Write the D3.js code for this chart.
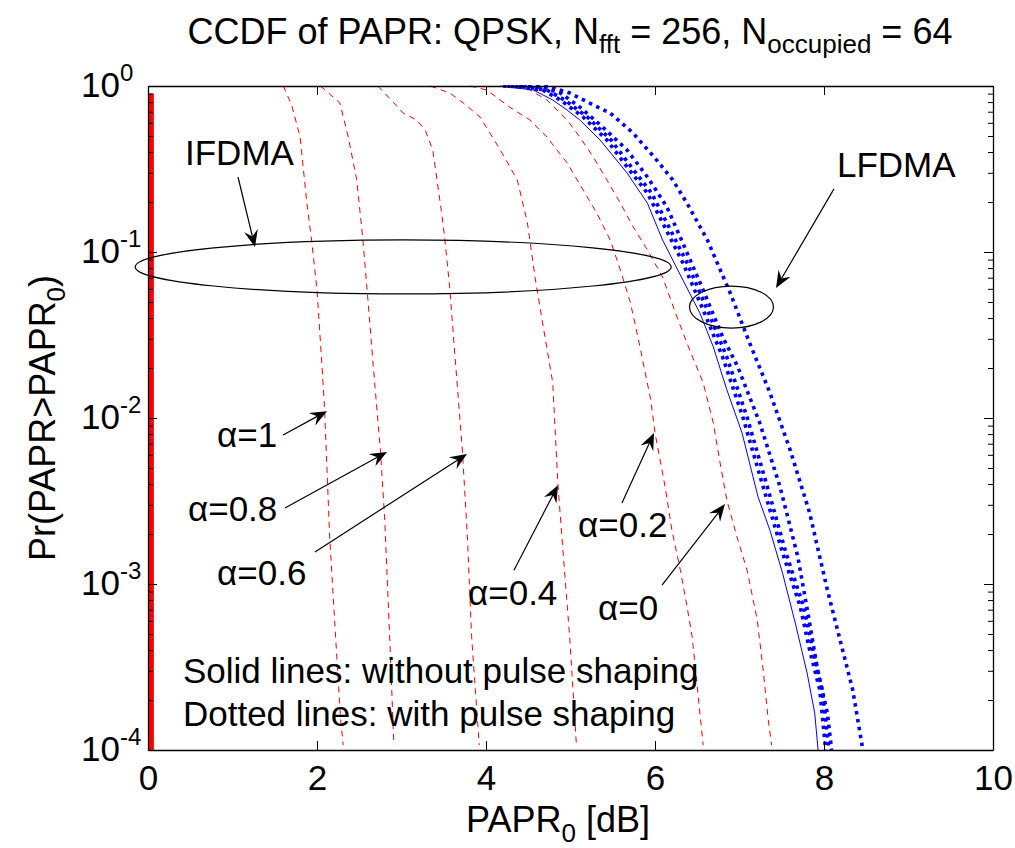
<!DOCTYPE html>
<html>
<head>
<meta charset="utf-8">
<script src="https://cdn.jsdelivr.net/npm/d3@7"></script>
<style>
  html, body { margin: 0; padding: 0; background: #fff; }
  svg text { font-family: "Liberation Sans", Arial, Helvetica, sans-serif; fill: #000; }
</style>
</head>
<body>
<svg id="chart" width="1015" height="848"></svg>
<script>
// ---- data: PAPR0 [dB] and Pr(PAPR > PAPR0) ----
const xTicks = [0, 2, 4, 6, 8, 10];
const yTicks = [1e-4, 1e-3, 1e-2, 1e-1, 1];
const yTickExponents = ["-4", "-3", "-2", "-1", "0"];

// IFDMA without pulse shaping: constant envelope, PAPR = 0 dB
const ifdmaNoShaping = [[0.04, 0.9], [0.04, 1e-4]];

// IFDMA with raised-cosine pulse shaping (dashed), one curve per roll-off
const alphaLabels = ["α=1", "α=0.8", "α=0.6", "α=0.4", "α=0.2", "α=0"];
const ifdmaAlpha1 = [[1.60,1],[1.70,0.769],[1.80,0.493],[1.88,0.197],[1.94,0.113],[2.00,0.0590],[2.06,0.0203],[2.09,0.0112],[2.15,0.00192],[2.22,4.80e-4],[2.28,1.52e-4],[2.31,1.07e-4]];
const ifdmaAlpha08 = [[2.04,1],[2.27,0.791],[2.37,0.493],[2.47,0.272],[2.54,0.123],[2.60,0.0536],[2.66,0.0223],[2.75,0.00641],[2.80,0.00254],[2.86,4.80e-4],[2.91,1.07e-4]];
const ifdmaAlpha06 = [[2.72,1],[2.91,0.791],[3.02,0.687],[3.18,0.624],[3.28,0.543],[3.37,0.411],[3.42,0.272],[3.47,0.179],[3.51,0.123],[3.57,0.0615],[3.63,0.0247],[3.72,0.00641],[3.78,0.00192],[3.83,4.80e-4],[3.92,1.07e-4]];
const ifdmaAlpha04 = [[3.34,1],[3.57,0.908],[3.73,0.791],[3.93,0.650],[4.17,0.411],[4.37,0.272],[4.49,0.150],[4.58,0.0706],[4.67,0.0373],[4.73,0.0247],[4.79,0.0163],[4.85,0.00406],[4.91,0.00160],[4.99,4.80e-4],[5.07,1.07e-4]];
const ifdmaAlpha02 = [[3.81,1],[4.01,0.946],[4.28,0.746],[4.52,0.624],[4.72,0.493],[4.96,0.344],[5.15,0.236],[5.31,0.172],[5.47,0.118],[5.59,0.0780],[5.71,0.0493],[5.83,0.0257],[5.95,0.0128],[6.00,0.00813],[6.12,0.00384],[6.20,0.00211],[6.30,0.00121],[6.38,7.26e-4],[6.44,4.80e-4],[6.57,1.07e-4]];
const ifdmaAlpha0 = [[4.22,1],[4.52,0.946],[4.72,0.824],[4.96,0.624],[5.11,0.493],[5.27,0.373],[5.43,0.272],[5.59,0.197],[5.74,0.142],[5.91,0.103],[6.09,0.0706],[6.26,0.0406],[6.41,0.0257],[6.57,0.0163],[6.69,0.00933],[6.77,0.00536],[6.85,0.00321],[6.97,0.00192],[7.09,0.00121],[7.21,6.07e-4],[7.28,3.03e-4],[7.34,1.52e-4],[7.38,1.07e-4]];

// LFDMA without pulse shaping (solid)
const lfdmaNoShaping = [[4.17,1],[4.56,0.946],[4.79,0.824],[4.96,0.716],[5.11,0.624],[5.35,0.473],[5.67,0.299],[5.91,0.197],[6.09,0.118],[6.33,0.0678],[6.53,0.0430],[6.69,0.0268],[6.85,0.0148],[7.03,0.00813],[7.22,0.00334],[7.36,0.00211],[7.51,0.00116],[7.66,5.82e-4],[7.80,2.91e-4],[7.89,1.67e-4],[7.93,1e-4]];

// LFDMA with pulse shaping (dotted)
const lfdmaShapingA = [[4.20,1],[4.40,0.99],[4.67,0.946],[4.88,0.824],[5.15,0.650],[5.43,0.473],[5.67,0.325],[5.91,0.226],[6.09,0.150],[6.33,0.0859],[6.57,0.0448],[6.80,0.0233],[7.04,0.0101],[7.28,0.00384],[7.51,0.00154],[7.72,7.26e-4],[7.83,4.00e-4],[7.95,2.30e-4],[8.02,1e-4]];
const lfdmaShapingB = [[4.25,1],[4.45,0.99],[4.72,0.946],[4.93,0.824],[5.20,0.650],[5.48,0.473],[5.72,0.325],[5.96,0.226],[6.14,0.150],[6.38,0.0859],[6.62,0.0448],[6.85,0.0233],[7.09,0.0101],[7.33,0.00384],[7.55,0.00154],[7.76,7.26e-4],[7.87,4.00e-4],[7.98,2.30e-4],[8.06,1e-4]];
const lfdmaShapingC = [[4.40,1],[4.64,0.986],[4.88,0.908],[5.11,0.746],[5.38,0.566],[5.67,0.411],[5.91,0.283],[6.14,0.187],[6.33,0.113],[6.57,0.0590],[6.80,0.0308],[6.98,0.0203],[7.24,0.00933],[7.48,0.00384],[7.69,0.00146],[7.83,5.82e-4],[7.93,2.91e-4],[8.04,1.67e-4],[8.09,1e-4]];
const lfdmaShapingD = [[4.50,1],[4.76,0.986],[4.99,0.908],[5.27,0.769],[5.47,0.687],[5.74,0.521],[6.02,0.358],[6.21,0.272],[6.39,0.192],[6.62,0.118],[6.89,0.0566],[7.12,0.0283],[7.36,0.0142],[7.60,0.00641],[7.83,0.00268],[8.04,9.20e-4],[8.19,4.60e-4],[8.34,2.30e-4],[8.46,1e-4]];

// ---- annotations, placed in data coordinates ----
const textNotes = [
  { text: "IFDMA", at: [0.438, 0.334] },
  { text: "LFDMA", at: [8.154, 0.283] },
  { text: alphaLabels[0], at: [0.817, 0.00668] },
  { text: alphaLabels[1], at: [0.473, 0.00240] },
  { text: alphaLabels[2], at: [0.817, 0.000986] },
  { text: alphaLabels[3], at: [3.787, 0.000747] },
  { text: alphaLabels[4], at: [5.089, 0.00192] },
  { text: alphaLabels[5], at: [5.325, 0.000607] },
  { text: "Solid lines: without pulse shaping", at: [0.414, 2.53e-4] },
  { text: "Dotted lines: with pulse shaping", at: [0.414, 1.40e-4] }
];
const arrowNotes = [
  { from: [1.065, 0.283], to: [1.266, 0.107] },
  { from: [8.118, 0.240], to: [7.432, 0.0607] },
  { from: [1.598, 0.00791], to: [2.118, 0.0110] },
  { from: [1.621, 0.00287], to: [2.828, 0.00624] },
  { from: [1.976, 0.00156], to: [3.775, 0.00607] },
  { from: [4.331, 0.00121], to: [4.852, 0.00394] },
  { from: [5.609, 0.00308], to: [5.988, 0.00813] },
  { from: [6.083, 0.000986], to: [6.828, 0.00303] }
];
const ellipseNotes = [
  { center: [3.02, 0.0813], rx: 268, ry: 27 },
  { center: [6.905, 0.0466], rx: 42, ry: 21 }
];

// ---- layout ----
const svg = d3.select("#chart");
const plot = { left: 148, right: 993, top: 86, bottom: 750 };
const x = d3.scaleLinear().domain([0, 10]).range([plot.left, plot.right]);
const y = d3.scaleLog().domain([1e-4, 1]).range([plot.bottom, plot.top]);

const fontTick = 35;
const fontNote = 35;

// clip for curves
svg.append("defs").append("clipPath").attr("id", "plotClip")
  .append("rect").attr("x", plot.left).attr("y", plot.top - 1)
  .attr("width", plot.right - plot.left).attr("height", plot.bottom - plot.top + 2);

const line = d3.line().x(d => x(d[0])).y(d => y(d[1]));
const curves = svg.append("g").attr("clip-path", "url(#plotClip)");

// IFDMA dashed curves
[ifdmaAlpha1, ifdmaAlpha08, ifdmaAlpha06, ifdmaAlpha04, ifdmaAlpha02, ifdmaAlpha0].forEach(s => {
  curves.append("path").datum(s).attr("d", line)
    .attr("fill", "none").attr("stroke", "#ff0000").attr("stroke-width", 1)
    .attr("stroke-dasharray", "6,5");
});

// LFDMA solid
curves.append("path").datum(lfdmaNoShaping).attr("d", line)
  .attr("fill", "none").attr("stroke", "#0000ff").attr("stroke-width", 1);

// LFDMA dotted
[lfdmaShapingA, lfdmaShapingB, lfdmaShapingC, lfdmaShapingD].forEach(s => {
  curves.append("path").datum(s).attr("d", line)
    .attr("fill", "none").attr("stroke", "#0000ff").attr("stroke-width", 3.6)
    .attr("stroke-dasharray", "3.5,4.5");
});

// IFDMA without shaping
curves.append("path").datum(ifdmaNoShaping).attr("d", line)
  .attr("fill", "none").attr("stroke", "#ff0000").attr("stroke-width", 5);

// ---- axes ----
const minorTicks = [];
for (let e = -4; e < 0; e++) for (let m = 2; m <= 9; m++) minorTicks.push(m * Math.pow(10, e));

const axStyle = g => {
  g.selectAll("path.domain").attr("stroke", "#000").attr("stroke-width", 1.3);
  g.selectAll(".tick line").attr("stroke", "#000").attr("stroke-width", 1);
};

svg.append("g").attr("transform", `translate(0,${plot.bottom})`)
  .call(d3.axisBottom(x).tickValues(xTicks).tickSize(-9).tickSizeOuter(0).tickPadding(15).tickFormat(d3.format("d")))
  .call(axStyle)
  .call(g => g.selectAll("text").attr("font-size", fontTick).attr("font-family", "Liberation Sans, Arial, sans-serif"));

svg.append("g").attr("transform", `translate(0,${plot.top})`)
  .call(d3.axisTop(x).tickValues(xTicks).tickSize(-9).tickSizeOuter(0).tickFormat(""))
  .call(axStyle);

svg.append("g").attr("transform", `translate(${plot.left},0)`)
  .call(d3.axisLeft(y).tickValues(yTicks).tickSize(-9).tickSizeOuter(0).tickFormat(""))
  .call(axStyle);
svg.append("g").attr("transform", `translate(${plot.left},0)`)
  .call(d3.axisLeft(y).tickValues(minorTicks).tickSize(-5).tickSizeOuter(0).tickFormat(""))
  .call(g => g.select("path.domain").remove())
  .call(axStyle);

svg.append("g").attr("transform", `translate(${plot.right},0)`)
  .call(d3.axisRight(y).tickValues(yTicks).tickSize(-9).tickSizeOuter(0).tickFormat(""))
  .call(axStyle);
svg.append("g").attr("transform", `translate(${plot.right},0)`)
  .call(d3.axisRight(y).tickValues(minorTicks).tickSize(-5).tickSizeOuter(0).tickFormat(""))
  .call(g => g.select("path.domain").remove())
  .call(axStyle);

// y tick labels as powers of ten
const yLab = svg.append("g");
yTicks.forEach((v, i) => {
  const t = yLab.append("text").attr("x", 81).attr("y", y(v) + 11)
    .attr("text-anchor", "start").attr("font-size", fontTick);
  t.append("tspan").text("10");
  t.append("tspan").attr("font-size", 24).attr("dy", -16).text(yTickExponents[i]);
});

// ---- titles ----
const title = svg.append("text").attr("x", 570).attr("y", 44).attr("text-anchor", "middle").attr("font-size", 36);
title.append("tspan").text("CCDF of PAPR: QPSK, N");
title.append("tspan").attr("font-size", 26).attr("dy", 9).text("fft");
title.append("tspan").attr("dy", -9).text(" = 256, N");
title.append("tspan").attr("font-size", 26).attr("dy", 9).text("occupied");
title.append("tspan").attr("dy", -9).text(" = 64");

const xl = svg.append("text").attr("x", 558).attr("y", 832).attr("text-anchor", "middle").attr("font-size", 36);
xl.append("tspan").text("PAPR");
xl.append("tspan").attr("font-size", 26).attr("dy", 10).text("0");
xl.append("tspan").attr("dy", -10).text(" [dB]");

const yl = svg.append("text").attr("transform", `translate(55,418) rotate(-90)`).attr("text-anchor", "middle").attr("font-size", 36);
yl.append("tspan").text("Pr(PAPR>PAPR");
yl.append("tspan").attr("font-size", 26).attr("dy", 10).text("0");
yl.append("tspan").attr("dy", -10).text(")");

// ---- annotations ----
const notes = svg.append("g");
ellipseNotes.forEach(e => {
  notes.append("ellipse").attr("cx", x(e.center[0])).attr("cy", y(e.center[1]))
    .attr("rx", e.rx).attr("ry", e.ry)
    .attr("fill", "none").attr("stroke", "#000").attr("stroke-width", 1.2);
});

arrowNotes.forEach(a => {
  const x0 = x(a.from[0]), y0 = y(a.from[1]), x1 = x(a.to[0]), y1 = y(a.to[1]);
  const dx = x1 - x0, dy = y1 - y0, L = Math.hypot(dx, dy);
  const ux = dx / L, uy = dy / L, px = -uy, py = ux;
  const len = 17, half = 7, notch = 6;
  const bx = x1 - ux * len, by = y1 - uy * len;
  const nx = x1 - ux * (len - notch), ny = y1 - uy * (len - notch);
  notes.append("line").attr("x1", x0).attr("y1", y0).attr("x2", nx).attr("y2", ny)
    .attr("stroke", "#000").attr("stroke-width", 1.2);
  notes.append("path")
    .attr("d", `M${x1},${y1}L${bx + px * half},${by + py * half}L${nx},${ny}L${bx - px * half},${by - py * half}Z`)
    .attr("fill", "#000");
});

textNotes.forEach(t => {
  notes.append("text").attr("x", x(t.at[0])).attr("y", y(t.at[1]))
    .attr("font-size", fontNote).text(t.text);
});
</script>
</body>
</html>
